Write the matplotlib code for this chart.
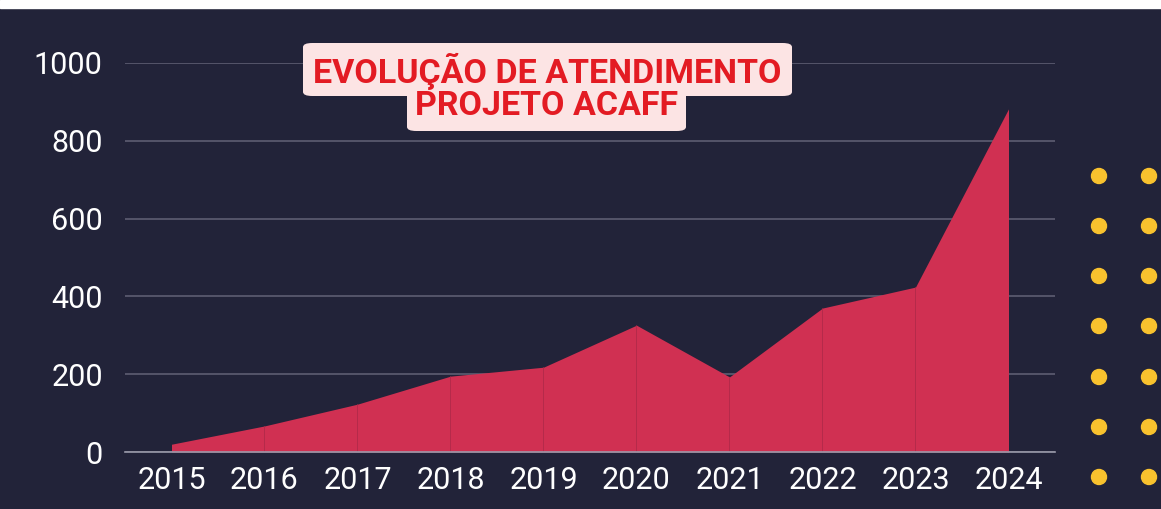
import matplotlib.pyplot as plt
from matplotlib.patches import FancyBboxPatch, Rectangle, Ellipse

years = [2015, 2016, 2017, 2018, 2019, 2020, 2021, 2022, 2023, 2024]
atendimentos = [20, 67, 123, 195, 218, 326, 193, 370, 424, 882]
yticks = [0, 200, 400, 600, 800, 1000]
title_lines = ["EVOLUÇÃO DE ATENDIMENTO", "PROJETO ACAFF"]

bg = "#222339"
fill = "#D03052"
W, H = 1161, 509

plt.rcParams['font.family'] = ['Roboto', 'DejaVu Sans']

fig = plt.figure(figsize=(W / 100, H / 100), dpi=100, facecolor=bg)
ax = fig.add_axes([125 / W, 1 - 452 / H, (1055 - 125) / W, (452 - 63) / H])
ax.set_facecolor(bg)

ax.fill_between(years, atendimentos, 0, color=fill, lw=0, zorder=3)
ax.vlines(years[1:-1], 0, atendimentos[1:-1], color="#b52a4a", lw=0.7, zorder=4)

ax.set_xlim(2014.5, 2024.5)
ax.set_ylim(0, 1000)
ax.set_xticks(years)
ax.set_yticks(yticks)
ax.grid(axis='y', color="#5d5d72", lw=1.2, zorder=1)
ax.grid(axis='x', visible=False)
for s in ['top', 'right', 'left']:
    ax.spines[s].set_visible(False)
ax.spines['bottom'].set_color("#9a9aaa")
ax.spines['bottom'].set_linewidth(1.2)
ax.spines['bottom'].set_zorder(5)
ax.tick_params(length=0, colors='white', labelsize=22)
ax.tick_params(axis='y', pad=16)
ax.tick_params(axis='x', pad=10)

# top strip
fig.patches.append(Rectangle((0, 1 - 8 / H), 1, 8 / H, transform=fig.transFigure,
                             color="white", zorder=10))

# title box
def px_box(x0, y0, x1, y1):
    return FancyBboxPatch((x0 / W, 1 - y1 / H), (x1 - x0) / W, (y1 - y0) / H,
                          boxstyle="round,pad=0,rounding_size=0.008",
                          transform=fig.transFigure, fc="#FCE4E4", ec="none", zorder=6)

fig.patches.append(px_box(303, 43, 792, 96))
fig.patches.append(px_box(407, 88, 686, 131))
fig.text(547 / W, 1 - 71 / H, title_lines[0], ha='center', va='center', color="#E31B23",
         fontsize=24.5, fontweight='bold', zorder=7)
fig.text(547 / W, 1 - 106 / H, title_lines[1], ha='center', va='center', color="#E31B23",
         fontsize=24.5, fontweight='bold', zorder=7)

# decorative dots
for cx in [1099, 1149]:
    for cy in [176, 226, 276, 326, 377, 427, 477]:
        fig.patches.append(Ellipse((cx / W, 1 - cy / H), 15 / W, 15 / H,
                                   transform=fig.transFigure, color="#F9C22E", zorder=6))

fig.savefig("out.png", dpi=100, facecolor=bg)
